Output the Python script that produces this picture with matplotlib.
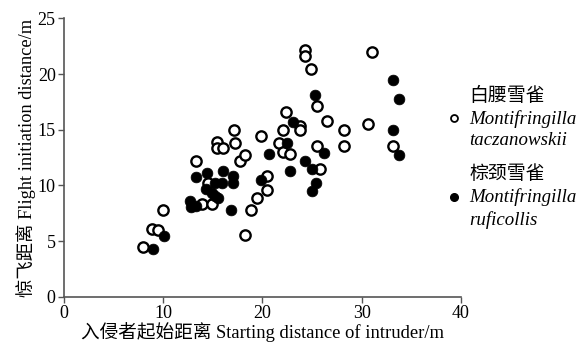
import matplotlib
matplotlib.use("Agg")
import matplotlib.pyplot as plt
from matplotlib.lines import Line2D
from matplotlib.font_manager import FontProperties

# Montifringilla taczanowskii (open circles)
open_x = [8.0, 8.85, 9.5, 9.95, 13.3, 13.9, 14.95, 14.5, 15.45, 15.4, 16.0, 17.15, 17.2,
          17.7, 18.25, 18.25, 18.8, 19.4, 19.9, 20.5, 20.5, 21.65, 22.1, 22.1, 22.75, 22.4,
          23.75, 23.75, 24.3, 24.3, 24.9, 25.45, 25.45, 25.75, 26.5, 28.2, 28.2, 30.65, 31.0, 33.15]
open_y = [4.45, 6.1, 5.95, 7.75, 12.15, 8.35, 8.35, 10.2, 13.9, 13.35, 13.35, 14.95, 13.85,
          12.15, 12.75, 5.55, 7.75, 8.9, 14.45, 10.85, 9.55, 13.85, 15.0, 13.0, 12.85, 16.6,
          15.3, 14.95, 22.15, 21.6, 20.45, 17.15, 13.55, 11.45, 15.8, 14.95, 13.55, 15.55, 22.0, 13.55]

# Montifringilla ruficollis (filled circles)
fill_x = [9.0, 10.05, 12.7, 12.75, 13.35, 13.3, 14.45, 14.35, 14.9, 15.2, 15.5, 15.2, 15.9,
          16.0, 17.05, 17.0, 16.8, 19.9, 20.7, 22.5, 22.8, 23.1, 24.3, 24.95, 25.4, 25.0,
          25.3, 26.2, 33.15, 33.75, 33.15, 33.75]
fill_y = [4.3, 5.45, 8.6, 8.1, 8.15, 10.75, 11.1, 9.65, 9.3, 9.0, 8.85, 10.2, 10.2,
          11.3, 10.85, 10.25, 7.75, 10.45, 12.85, 13.85, 11.3, 15.7, 12.15, 11.45, 10.25, 9.45,
          18.1, 12.95, 19.5, 17.75, 14.95, 12.7]

x_ticks = [0, 10, 20, 30, 40]
y_ticks = [0, 5, 10, 15, 20, 25]
x_label = "入侵者起始距离 Starting distance of intruder/m"
y_label = "惊飞距离 Flight initiation distance/m"
legend_labels = ["白腰雪雀\nMontifringilla\ntaczanowskii",
                 "棕颈雪雀\nMontifringilla\nruficollis"]

fam = ["Liberation Serif", "Noto Sans CJK SC", "DejaVu Sans"]
plt.rcParams["font.family"] = fam

fig = plt.figure(figsize=(5.77, 3.47), dpi=100)
ax = fig.add_axes([0.1109, 0.145, 0.688, 0.802])

ax.scatter(open_x, open_y, s=55, facecolors="white", edgecolors="black",
           linewidths=1.7, zorder=3)
ax.scatter(fill_x, fill_y, s=60, color="black", edgecolors="black",
           linewidths=0.5, zorder=4)

ax.set_xlim(0, 40)
ax.set_ylim(0, 25)
ax.set_xticks(x_ticks)
ax.set_yticks(y_ticks)
for s in ["top", "right"]:
    ax.spines[s].set_visible(False)
for s in ["left", "bottom"]:
    ax.spines[s].set_color("#555555")
    ax.spines[s].set_linewidth(1.2)
ax.tick_params(direction="out", length=4, width=1.0, color="#555555",
               labelsize=13, pad=2)

ax.set_xlabel(x_label, fontsize=13.4, labelpad=0)
ax.set_ylabel(y_label, fontsize=13.2, labelpad=1)

handles = [Line2D([], [], marker="o", linestyle="none", markersize=5,
                  markerfacecolor="white", markeredgecolor="black", markeredgewidth=1.3),
           Line2D([], [], marker="o", linestyle="none", markersize=5.5,
                  markerfacecolor="black", markeredgecolor="black")]
prop = FontProperties(family=fam, style="italic", size=13.6)
leg = ax.legend(handles, legend_labels, prop=prop, frameon=False,
                loc="upper left", bbox_to_anchor=(0.777, 0.75),
                bbox_transform=fig.transFigure,
                handlelength=0.6, handletextpad=0.5, labelspacing=0.85,
                borderpad=0, borderaxespad=0)
for t in leg.get_texts():
    t.set_linespacing(1.36)

fig.savefig("out.png", dpi=100)
